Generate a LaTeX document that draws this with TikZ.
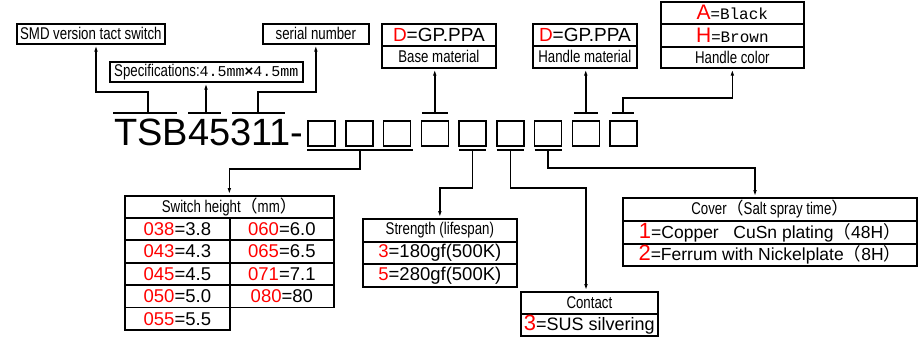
\documentclass[tikz,border=0pt]{standalone}
\usepackage{fontspec}
\setmainfont{Liberation Sans}
\newfontfamily\narrowf[FakeStretch=0.78]{Liberation Sans}
\newfontfamily\monof{Liberation Mono}
\newfontfamily\sansf{Liberation Sans}
\newfontfamily\cjk{Noto Sans CJK SC}
\usetikzlibrary{arrows.meta}
\tikzset{
 box/.style={draw, line width=1.7pt, inner sep=0pt, anchor=north west, align=center},
 nar/.style={font=\narrowf\fontsize{17}{18}\selectfont},
 val/.style={font=\sansf\fontsize{18.5}{20}\selectfont},
 conn/.style={line width=1.5pt},
 arr/.style={conn, -{Latex[length=7pt,width=3.6pt]}},
 sq/.style={draw, line width=1.5pt, minimum width=27pt, minimum height=25pt, inner sep=0pt},
}
\newcommand{\rdd}[2]{{\color{red}\fontsize{#1}{#1}\selectfont #2}}
\begin{document}
\begin{tikzpicture}[x=1pt,y=-1pt]
\useasboundingbox (0,0) rectangle (921,342);

% top boxes
\node[box,nar,minimum width=148pt,minimum height=20pt] (smd) at (16,23) {SMD version tact switch};
\node[box,nar,minimum width=193pt,minimum height=20pt] (spec) at (109,61)
 {Specifications:{\monof\fontsize{15}{16}\selectfont 4.5mm}{\sansf\bfseries\fontsize{15}{16}\selectfont ×}{\monof\fontsize{15}{16}\selectfont 4.5mm}};
\node[box,nar,minimum width=106pt,minimum height=20pt] (serial) at (262,23) {serial number};

\node[box,font=\sansf\fontsize{19}{20}\selectfont,minimum width=114pt,minimum height=22pt] (base1) at (381,23) {\textcolor{red}{D}=GP.PPA};
\node[box,nar,minimum width=114pt,minimum height=22pt] (base2) at (381,45) {Base material};

\node[box,font=\sansf\fontsize{19}{20}\selectfont,minimum width=104pt,minimum height=22pt] (hm1) at (532,23) {\textcolor{red}{D}=GP.PPA};
\node[box,nar,minimum width=104pt,minimum height=22pt] (hm2) at (532,45) {Handle material};

\node[box,font=\sansf\fontsize{16}{18}\selectfont,minimum width=143pt,minimum height=22pt] (hc1) at (660,1) {\rdd{21}{A}={\monof\fontsize{16}{16}\selectfont Black}};
\node[box,font=\sansf\fontsize{16}{18}\selectfont,minimum width=143pt,minimum height=23pt] (hc2) at (660,23) {\rdd{21}{H}={\monof\fontsize{16}{16}\selectfont Brown}};
\node[box,nar,minimum width=143pt,minimum height=21pt] (hc3) at (660,46) {Handle color};

% part number
\node[anchor=base west, inner sep=0pt, font=\sansf\fontsize{38}{40}\selectfont] (pn) at (114,146) {TSB45311-};
\foreach \i in {1,...,9}
  \node[sq] (s\i) at ({321.5+37.75*(\i-1)},133.5) {};

% top bars
\coordinate (ta) at (148,113);
\coordinate (tb) at (206,113);
\coordinate (tc) at (258,113);
\coordinate (t4) at (434.75,113);
\coordinate (t8) at (585.75,113);
\coordinate (t9) at (623,113);
\draw[conn] (113,113) -- (177,113);
\draw[conn] (188,113) -- (221,113);
\draw[conn] (232,113) -- (285,113);
\draw[conn] ([xshift=-13pt]t4) -- ([xshift=13pt]t4);
\draw[conn] ([xshift=-12pt]t8) -- ([xshift=12pt]t8);
\draw[conn] ([xshift=-11pt]t9) -- ([xshift=11pt]t9);

\draw[arr] (ta) -- ++(0,-21) -| ([xshift=80pt]smd.south west);
\draw[arr] (tb) -- (spec.south -| tb);
\draw[arr] (tc) -- ++(0,-21) -| (serial.south);
\draw[arr] (t4) -- (base2.south -| t4);
\draw[arr] (t8) -- (hm2.south -| t8);
\draw[arr] (t9) -- ++(0,-15) -| (hc3.south);

% bottom bars
\coordinate (b1) at (360,150);
\coordinate (b5) at (472.5,150);
\coordinate (b6) at (510.25,150);
\coordinate (b7) at (548,150);
\draw[conn] (307,150) -- (413,150);
\draw[conn] ([xshift=-13.5pt]b5) -- ([xshift=13.5pt]b5);
\draw[conn] ([xshift=-13.5pt]b6) -- ([xshift=13.5pt]b6);
\draw[conn] ([xshift=-13.5pt]b7) -- ([xshift=13.5pt]b7);

% switch height table
\node[box,nar,minimum width=209pt,minimum height=22pt] (sh) at (124,195) {Switch height{\cjk （}mm{\cjk ）}};
\node[box,val,minimum width=105pt,minimum height=22.4pt] (sa1) at (124,217) {\textcolor{red}{038}=3.8};
\node[box,val,minimum width=105pt,minimum height=22.4pt] (sa2) at (124,239.4) {\textcolor{red}{043}=4.3};
\node[box,val,minimum width=105pt,minimum height=22.4pt] (sa3) at (124,261.8) {\textcolor{red}{045}=4.5};
\node[box,val,minimum width=105pt,minimum height=22.4pt] (sa4) at (124,284.2) {\textcolor{red}{050}=5.0};
\node[box,val,minimum width=105pt,minimum height=22.4pt] (sa5) at (124,306.6) {\textcolor{red}{055}=5.5};
\node[box,val,minimum width=104pt,minimum height=22.4pt] (sb1) at (229,217) {\textcolor{red}{060}=6.0};
\node[box,val,minimum width=104pt,minimum height=22.4pt] (sb2) at (229,239.4) {\textcolor{red}{065}=6.5};
\node[box,val,minimum width=104pt,minimum height=22.4pt] (sb3) at (229,261.8) {\textcolor{red}{071}=7.1};
\node[box,val,minimum width=104pt,minimum height=22.4pt] (sb4) at (229,284.2) {\textcolor{red}{080}=80};

% strength table
\node[box,nar,minimum width=154pt,minimum height=23pt] (st) at (362,218) {Strength (lifespan)};
\node[box,val,minimum width=154pt,minimum height=22pt] (st1) at (362,241) {\textcolor{red}{3}=180gf(500K)};
\node[box,val,minimum width=154pt,minimum height=23pt] (st2) at (362,263) {\textcolor{red}{5}=280gf(500K)};

% contact table
\node[box,nar,minimum width=137pt,minimum height=22pt] (ct) at (520,291) {Contact};
\node[box,font=\sansf\fontsize{18}{20}\selectfont,minimum width=137pt,minimum height=22pt] (ct1) at (520,313) {\rdd{22}{3}=SUS silvering};

% cover table
\node[box,nar,minimum width=294pt,minimum height=23pt] (cv) at (622,197) {Cover{\cjk （}Salt spray time{\cjk ）}};
\node[box,font=\sansf\fontsize{17.5}{20}\selectfont,minimum width=294pt,minimum height=23pt] (cv1) at (622,220) {\rdd{22}{1}=Copper\ \ \ CuSn plating{\cjk （}48H{\cjk ）}};
\node[box,font=\sansf\fontsize{17.5}{20}\selectfont,minimum width=294pt,minimum height=22pt] (cv2) at (622,243) {\rdd{22}{2}=Ferrum with Nickelplate{\cjk （}8H{\cjk ）}};

% bottom connectors
\draw[arr] (b1) -- ++(0,19) -| (sh.north);
\draw[arr] (b5) -- ++(0,38) -| (st.north);
\draw[arr] (b6) -- ++(0,38) -| ([xshift=66pt]ct.north west);
\draw[arr] (b7) -- ++(0,18) -| ([xshift=133pt]cv.north west);
\end{tikzpicture}
\end{document}
